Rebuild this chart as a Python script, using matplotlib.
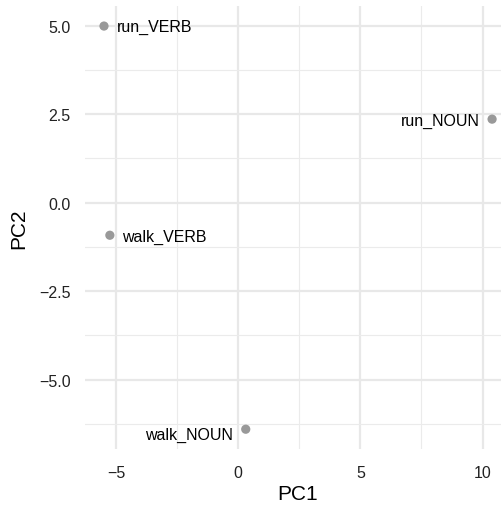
import matplotlib.pyplot as plt
from matplotlib.ticker import MultipleLocator

plt.rcParams['font.family'] = ['Liberation Sans', 'DejaVu Sans']

words = ["run_VERB", "walk_VERB", "run_NOUN", "walk_NOUN"]
pc1 = [-5.49, -5.25, 10.39, 0.31]
pc2 = [4.99, -0.92, 2.36, -6.40]
# which side of the point the label sits on
label_side = ["right", "right", "left", "left"]

fig = plt.figure(figsize=(5.02, 5.06), dpi=100)
ax = fig.add_axes([0.1687, 0.1099, 0.850, 0.8765])

ax.scatter(pc1, pc2, s=44, color="#999999", edgecolors="none", zorder=3)

for w, x, y, side in zip(words, pc1, pc2, label_side):
    if side == "right":
        ax.annotate(w, (x, y), xytext=(9, -0.5), textcoords="offset points",
                    ha="left", va="center", fontsize=11.5, color="black")
    else:
        dy = -4 if w == "walk_NOUN" else -1
        ax.annotate(w, (x, y), xytext=(-9, dy), textcoords="offset points",
                    ha="right", va="center", fontsize=11.5, color="black")

ax.set_xlim(-6.28, 11.18)
ax.set_ylim(-6.97, 5.56)
ax.xaxis.set_minor_locator(MultipleLocator(2.5))
ax.yaxis.set_minor_locator(MultipleLocator(1.25))
ax.set_xticks([-5, 0, 5, 10])
ax.set_xticklabels(["\u22125", "0", "5", "10"])
ax.set_yticks([-5, -2.5, 0, 2.5, 5])
ax.set_yticklabels(["\u22125.0", "\u22122.5", "0.0", "2.5", "5.0"])

ax.grid(which="major", color="#E8E8E8", linewidth=1.6)
ax.grid(which="minor", color="#EBEBEB", linewidth=0.8)
ax.set_axisbelow(True)
for s in ax.spines.values():
    s.set_visible(False)
ax.tick_params(which="both", length=0, labelsize=11.5, labelcolor="#222222")
ax.tick_params(axis="y", pad=10)
ax.tick_params(axis="x", pad=11)

ax.set_xlabel("PC1", fontsize=15, labelpad=3)
ax.set_ylabel("PC2", fontsize=15, labelpad=8)

fig.savefig("out.png", dpi=100)
